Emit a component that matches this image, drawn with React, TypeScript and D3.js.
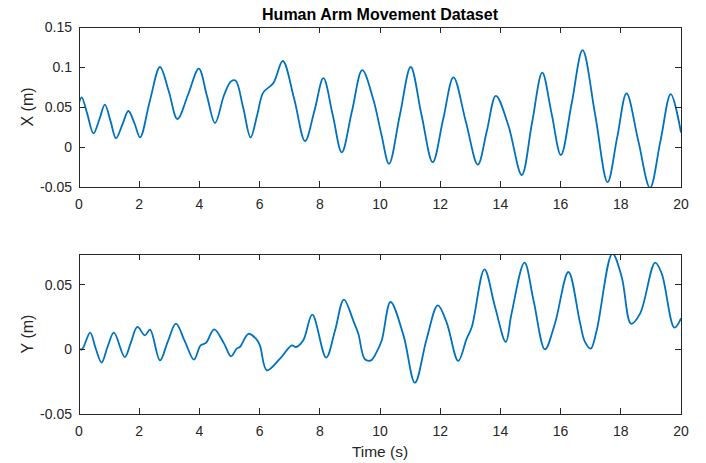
import React from "react";
import * as d3 from "d3";

// Horizontal (X) hand position over time: time (s) and position (m)
const xTime = [0, 0.09, 0.27, 0.48, 0.68, 0.86, 1.05, 1.23, 1.44, 1.64, 1.84, 2.03, 2.35, 2.69, 2.98, 3.27, 3.62, 3.98, 4.25, 4.52, 4.82, 5.05, 5.2, 5.45, 5.7, 5.92, 6.12, 6.46, 6.77, 7.15, 7.51, 7.82, 8.12, 8.43, 8.73, 9.07, 9.41, 9.78, 10.05, 10.3, 10.66, 11.02, 11.38, 11.75, 12.1, 12.44, 12.85, 13.25, 13.55, 13.85, 14.26, 14.71, 15.05, 15.39, 15.7, 16.01, 16.37, 16.73, 17.15, 17.56, 17.88, 18.19, 18.58, 18.97, 19.32, 19.66, 20];
const xPos = [0.055, 0.062, 0.042, 0.017, 0.035, 0.053, 0.032, 0.011, 0.028, 0.045, 0.03, 0.012, 0.057, 0.1, 0.07, 0.035, 0.065, 0.098, 0.064, 0.03, 0.065, 0.082, 0.083, 0.05, 0.012, 0.04, 0.068, 0.08, 0.1075, 0.06, 0.0075, 0.045, 0.086, 0.04, -0.0066, 0.045, 0.096, 0.059, 0.015, -0.021, 0.04, 0.1, 0.04, -0.019, 0.035, 0.087, 0.032, -0.022, 0.02, 0.064, 0.0275, -0.035, 0.03, 0.093, 0.042, -0.01, 0.055, 0.121, 0.04, -0.044, 0.012, 0.067, 0.008, -0.051, 0.008, 0.066, 0.018];

// Vertical (Y) hand position over time
const yTime = [0, 0.1, 0.37, 0.55, 0.75, 0.95, 1.16, 1.52, 1.72, 1.94, 2.19, 2.36, 2.69, 2.95, 3.22, 3.52, 3.82, 4.04, 4.22, 4.49, 4.82, 5.05, 5.24, 5.35, 5.63, 5.88, 6.01, 6.24, 6.68, 7.07, 7.21, 7.45, 7.75, 8.21, 8.5, 8.8, 9.11, 9.28, 9.5, 9.7, 9.89, 10.06, 10.35, 10.78, 11.16, 11.55, 11.92, 12.21, 12.6, 12.88, 13.05, 13.47, 13.82, 14.18, 14.37, 14.8, 15.1, 15.48, 15.81, 16.26, 16.64, 16.81, 17.0, 17.2, 17.72, 18.03, 18.34, 18.64, 19.14, 19.36, 19.78, 20];
const yPos = [0.0005, 0.0, 0.0129, 0.001, -0.0103, 0.002, 0.0129, -0.006, 0.005, 0.0173, 0.0108, 0.0152, -0.0085, 0.006, 0.0198, 0.006, -0.008, 0.003, 0.005, 0.0155, 0.0044, -0.0054, 0.0005, 0.002, 0.012, 0.0082, 0.003, -0.0162, -0.0072, 0.003, 0.0018, 0.007, 0.0268, -0.0064, 0.014, 0.0384, 0.0224, 0.012, -0.0077, -0.0085, -0.002, 0.007, 0.0366, 0.0108, -0.0258, 0.008, 0.034, 0.0211, -0.009, 0.0083, 0.0172, 0.0618, 0.033, 0.0057, 0.0276, 0.067, 0.038, 0.0, 0.0198, 0.0598, 0.0211, 0.0057, 0.0005, 0.0147, 0.074, 0.056, 0.0198, 0.0276, 0.067, 0.0585, 0.0168, 0.024];

const timeTicks = [0, 2, 4, 6, 8, 10, 12, 14, 16, 18, 20];
const xTicks = [-0.05, 0, 0.05, 0.1, 0.15];
const yTicks = [-0.05, 0, 0.05];

const W = 706;
const H = 463;
const LEFT = 79;
const RIGHT = 681;
const LINE = "#0072BD";
const AXIS = "#262626";
const FONT = "'Liberation Sans', Arial, Helvetica, sans-serif";

type PanelProps = {
  id: string;
  top: number;
  bottom: number;
  domain: [number, number];
  ticks: number[];
  times: number[];
  values: number[];
  label: string;
  tickFmt: (v: number) => string;
};

function Panel({ id, top, bottom, domain, ticks, times, values, label, tickFmt }: PanelProps) {
  const x = d3.scaleLinear().domain([0, 20]).range([LEFT, RIGHT]);
  const y = d3.scaleLinear().domain(domain).range([bottom, top]);
  const pts: [number, number][] = times.map((t, i) => [t, values[i]]);
  const path = d3
    .line<[number, number]>()
    .x((d) => x(d[0]))
    .y((d) => y(d[1]))
    .curve(d3.curveCatmullRom.alpha(0.5))(pts) as string;
  const tl = 6;
  return (
    <g>
      <defs>
        <clipPath id={id}>
          <rect x={LEFT} y={top} width={RIGHT - LEFT} height={bottom - top} />
        </clipPath>
      </defs>
      <rect x={LEFT} y={top} width={RIGHT - LEFT} height={bottom - top} fill="#fff" />
      <path d={path} fill="none" stroke={LINE} strokeWidth={1.8} clipPath={`url(#${id})`} strokeLinejoin="round" />
      <rect x={LEFT} y={top} width={RIGHT - LEFT} height={bottom - top} fill="none" stroke={AXIS} strokeWidth={1} shapeRendering="crispEdges" />
      {timeTicks.map((t) => (
        <g key={`t${t}`}>
          <line x1={x(t)} x2={x(t)} y1={bottom} y2={bottom - tl} stroke={AXIS} shapeRendering="crispEdges" />
          <line x1={x(t)} x2={x(t)} y1={top} y2={top + tl} stroke={AXIS} shapeRendering="crispEdges" />
          <text x={x(t)} y={bottom + 22} textAnchor="middle" fontSize={14} fill={AXIS} fontFamily={FONT}>
            {t}
          </text>
        </g>
      ))}
      {ticks.map((v) => (
        <g key={`v${v}`}>
          <line x1={LEFT} x2={LEFT + tl} y1={y(v)} y2={y(v)} stroke={AXIS} shapeRendering="crispEdges" />
          <line x1={RIGHT} x2={RIGHT - tl} y1={y(v)} y2={y(v)} stroke={AXIS} shapeRendering="crispEdges" />
          <text x={LEFT - 7} y={y(v) + 5} textAnchor="end" fontSize={14} fill={AXIS} fontFamily={FONT}>
            {tickFmt(v)}
          </text>
        </g>
      ))}
      <text
        transform={`translate(${33},${(top + bottom) / 2}) rotate(-90)`}
        textAnchor="middle"
        fontSize={16}
        fill={AXIS}
        fontFamily={FONT}
      >
        {label}
      </text>
    </g>
  );
}

const fmt = (v: number) => (v === 0 ? "0" : String(Number(v.toFixed(2))));

export default function App() {
  return (
    <svg width={W} height={H} style={{ position: "absolute", left: 0, top: 0, background: "#fff" }}>
      <rect width={W} height={H} fill="#fff" />
      <text x={(LEFT + RIGHT) / 2} y={20} textAnchor="middle" fontSize={16} fontWeight="bold" fill="#000" fontFamily={FONT}>
        Human Arm Movement Dataset
      </text>
      <Panel id="clipX" top={27} bottom={187} domain={[-0.05, 0.15]} ticks={xTicks} times={xTime} values={xPos} label="X (m)" tickFmt={fmt} />
      <Panel id="clipY" top={254} bottom={414} domain={[-0.05, 0.0737]} ticks={yTicks} times={yTime} values={yPos} label="Y (m)" tickFmt={fmt} />
      <text x={(LEFT + RIGHT) / 2} y={457} textAnchor="middle" fontSize={15.5} fill={AXIS} fontFamily={FONT}>
        Time (s)
      </text>
    </svg>
  );
}
